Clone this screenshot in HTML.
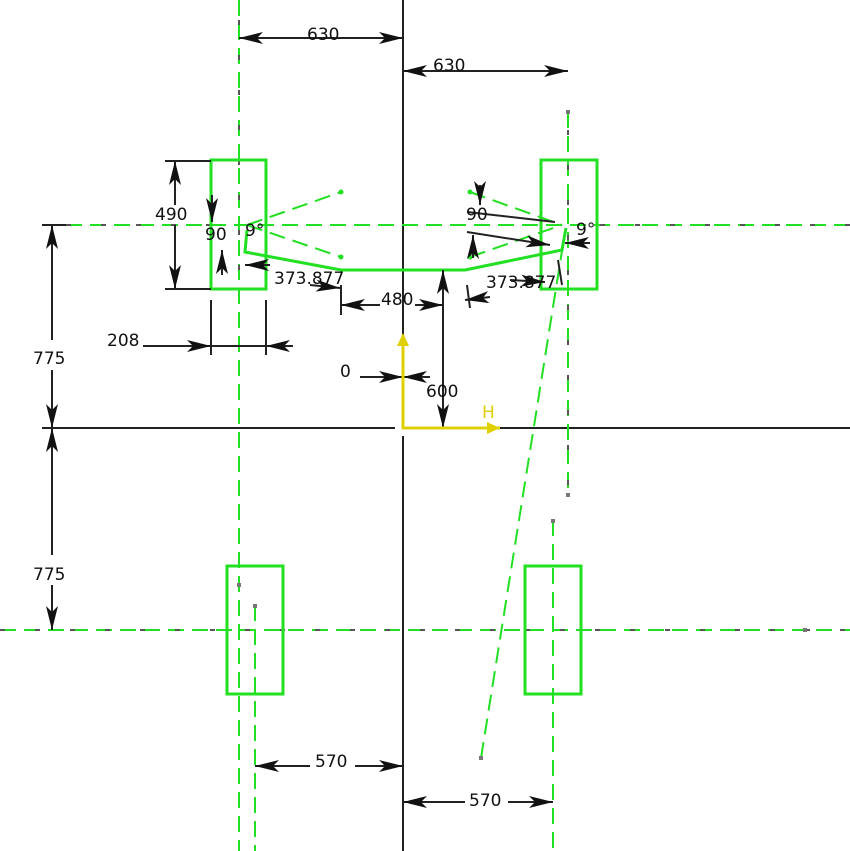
<!DOCTYPE html>
<html><head><style>html,body{margin:0;padding:0;background:#fff}svg{display:block}text{font-family:"DejaVu Sans","Liberation Sans",sans-serif;font-size:17px;fill:#111}</style></head><body>
<svg width="850" height="851" viewBox="0 0 850 851" xmlns="http://www.w3.org/2000/svg">
<defs>
<marker id="a" viewBox="0 0 24 12" refX="24" refY="6" markerWidth="24" markerHeight="12" markerUnits="userSpaceOnUse" orient="auto-start-reverse"><path d="M0,0 L24,6 L0,12 L6,6 Z" fill="#111"/></marker>
</defs>
<g stroke="#222" stroke-width="2" fill="none">
<line x1="403" y1="0" x2="403" y2="420"/><line x1="403" y1="436" x2="403" y2="851"/>
<line x1="42" y1="428" x2="395" y2="428"/><line x1="410" y1="428" x2="850" y2="428"/>
<line x1="42" y1="225" x2="66" y2="225"/>
</g>
<g stroke="#22e022" stroke-width="2" fill="none" stroke-dasharray="16,8">
<line x1="66" y1="225" x2="850" y2="225"/>
<line x1="0" y1="630" x2="850" y2="630"/>
<line x1="239" y1="0" x2="239" y2="851"/>
<line x1="568" y1="112" x2="568" y2="495"/>
<line x1="553" y1="520" x2="553" y2="851"/>
<line x1="255" y1="605" x2="255" y2="851"/>
<line x1="481" y1="758" x2="565" y2="232"/>
<line x1="247" y1="225" x2="341" y2="192"/><line x1="247" y1="225" x2="341" y2="257"/>
<line x1="470" y1="192" x2="562" y2="225"/><line x1="470" y1="257" x2="562" y2="225"/>
</g>
<g stroke="#555" stroke-width="2" stroke-dasharray="5,30">
<line x1="66" y1="225" x2="210" y2="225"/><line x1="600" y1="225" x2="850" y2="225"/>
<line x1="0" y1="630" x2="850" y2="630"/><line x1="239" y1="20" x2="239" y2="300"/><line x1="568" y1="130" x2="568" y2="490"/>
</g>
<g stroke="#22e022" stroke-width="3" fill="none">
<rect x="211" y="160" width="55" height="129"/><rect x="541" y="160" width="56" height="129"/>
<rect x="227" y="566" width="56" height="128"/><rect x="525" y="566" width="56" height="128"/>
<polyline points="247,230 245,252 341,270 465,270 562,250 566,228"/>
</g>
<g fill="#777"><rect x="566" y="110" width="4" height="4"/><rect x="566" y="493" width="4" height="4"/><rect x="551" y="519" width="4" height="4"/><rect x="237" y="583" width="4" height="4"/><rect x="253" y="604" width="4" height="4"/><rect x="479" y="756" width="4" height="4"/><rect x="803" y="628" width="4" height="4"/></g>
<g fill="#22e022"><circle cx="341" cy="192" r="2.5"/><circle cx="341" cy="257" r="2.5"/><circle cx="470" cy="192" r="2.5"/><circle cx="470" cy="257" r="2.5"/></g>
<g stroke="#222" stroke-width="2" fill="none">
<line x1="239" y1="38" x2="403" y2="38" marker-start="url(#a)" marker-end="url(#a)"/>
<line x1="403" y1="71" x2="568" y2="71" marker-start="url(#a)" marker-end="url(#a)"/>
<line x1="165" y1="161" x2="211" y2="161"/><line x1="165" y1="289" x2="211" y2="289"/>
<line x1="175" y1="161" x2="175" y2="205" marker-start="url(#a)"/><line x1="175" y1="225" x2="175" y2="289" marker-end="url(#a)"/>
<line x1="52" y1="225" x2="52" y2="340" marker-start="url(#a)"/><line x1="52" y1="370" x2="52" y2="428" marker-end="url(#a)"/>
<line x1="42" y1="428" x2="60" y2="428"/>
<line x1="52" y1="428" x2="52" y2="555" marker-start="url(#a)"/><line x1="52" y1="585" x2="52" y2="630" marker-end="url(#a)"/>
<line x1="211" y1="300" x2="211" y2="355"/><line x1="266" y1="300" x2="266" y2="355"/>
<line x1="143" y1="346" x2="211" y2="346" marker-end="url(#a)"/><line x1="211" y1="346" x2="266" y2="346"/><line x1="293" y1="346" x2="266" y2="346" marker-end="url(#a)"/>
<line x1="341" y1="285" x2="341" y2="315"/><line x1="443" y1="280" x2="443" y2="428"/>
<line x1="341" y1="305" x2="380" y2="305" marker-start="url(#a)"/><line x1="415" y1="305" x2="443" y2="305" marker-end="url(#a)"/>
<line x1="443" y1="270" x2="443" y2="305" marker-start="url(#a)"/>
<line x1="443" y1="400" x2="443" y2="428" marker-end="url(#a)"/>
<line x1="360" y1="377" x2="403" y2="377" marker-end="url(#a)"/><line x1="430" y1="377" x2="403" y2="377" marker-end="url(#a)"/>
<line x1="255" y1="766" x2="310" y2="766" marker-start="url(#a)"/><line x1="355" y1="766" x2="403" y2="766" marker-end="url(#a)"/>
<line x1="403" y1="802" x2="465" y2="802" marker-start="url(#a)"/><line x1="508" y1="802" x2="553" y2="802" marker-end="url(#a)"/>
<line x1="212" y1="195" x2="212" y2="222" marker-end="url(#a)"/><line x1="222" y1="275" x2="222" y2="250" marker-end="url(#a)"/>
<line x1="270" y1="265" x2="245" y2="265" marker-end="url(#a)"/><line x1="310" y1="285" x2="340" y2="288" marker-end="url(#a)"/>
<line x1="480" y1="185" x2="480" y2="205" marker-end="url(#a)"/><line x1="473" y1="258" x2="473" y2="235" marker-end="url(#a)"/>
<line x1="467" y1="212" x2="555" y2="222"/><line x1="467" y1="232" x2="550" y2="245" marker-end="url(#a)"/>
<line x1="590" y1="243" x2="565" y2="243" marker-end="url(#a)"/><line x1="490" y1="297" x2="465" y2="300" marker-end="url(#a)"/>
<line x1="510" y1="280" x2="545" y2="282" marker-end="url(#a)"/>
<line x1="467" y1="285" x2="470" y2="308"/><line x1="558" y1="260" x2="562" y2="285"/>
</g>
<g stroke="#e0d000" stroke-width="3" fill="none"><polyline points="403,335 403,428 500,428"/></g>
<path d="M397,346 L403,333 L409,346 Z M487,422 L500,428 L487,434 Z" fill="#e0d000"/>
<text x="307" y="40">630</text><text x="433" y="71">630</text>
<text x="155" y="220">490</text><text x="33" y="364">775</text><text x="33" y="580">775</text>
<text x="107" y="346">208</text><text x="274" y="284">373.877</text><text x="486" y="288">373.877</text>
<text x="381" y="305">480</text><text x="426" y="397">600</text><text x="340" y="377">0</text>
<text x="315" y="767">570</text><text x="469" y="806">570</text>
<text x="466" y="220">90</text><text x="205" y="240" font-size="13">90</text><text x="245" y="236" font-size="13">9°</text><text x="576" y="235" font-size="15">9°</text>
<text x="482" y="418" style="fill:#e0d000">H</text>
</svg>
</body></html>
